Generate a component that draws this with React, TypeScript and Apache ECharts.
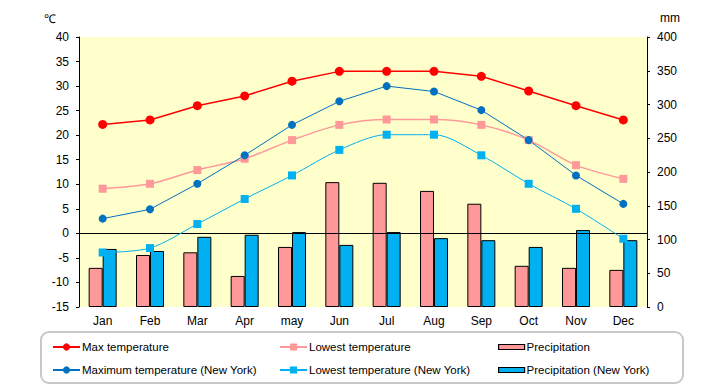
import React, { useEffect, useRef } from "react";
import * as echarts from "echarts";

const months = ["Jan", "Feb", "Mar", "Apr", "may", "Jun", "Jul", "Aug", "Sep", "Oct", "Nov", "Dec"];
const maxTemp = [22.2, 23.1, 26, 28, 31, 33, 33, 33, 32, 29, 26, 23.1];
const lowTemp = [9.1, 10.1, 12.9, 15.2, 19, 22.1, 23.2, 23.2, 22.1, 19, 13.9, 11.1];
const maxTempNY = [3, 4.9, 10.1, 15.9, 22.1, 26.9, 30, 28.9, 25.1, 19, 11.8, 6];
const lowTempNY = [-3.9, -3, 1.9, 7, 11.8, 17, 20.1, 20.1, 15.9, 10.1, 5, -1.1];
const precip = [58, 77, 81, 46, 89, 185, 184, 172, 153, 61, 58, 55];
const precipNY = [86, 83, 104, 107, 111, 92, 111, 102, 99, 89, 114, 99];

const FONT = "Liberation Sans";

export default function App() {
  const ref = useRef<HTMLDivElement>(null);
  useEffect(() => {
    if (!ref.current) return;
    const chart = echarts.init(ref.current, null, { renderer: "svg" });
    const legendText = { fontFamily: FONT, fontSize: 11.5, color: "#000" };
    const mkLegend = (name: string, left: number, top: number, bar = false) => {
      const base: any = {
        left,
        top,
        padding: 0,
        itemWidth: bar ? 26 : 27,
        itemHeight: bar ? 5 : 9,
        itemGap: 0,
        textStyle: { ...legendText, padding: [0, 0, 0, -3] },
        data: [name],
        selectedMode: false,
      };
      if (bar) {
        base.icon = "rect";
        base.itemStyle = { borderColor: "#000", borderWidth: 1.2 };
      }
      return base;
    };
    chart.setOption({
      animation: false,
      textStyle: { fontFamily: FONT },
      grid: { left: 79, right: 73, top: 37, bottom: 78, show: true, backgroundColor: "#FFFFCC", borderWidth: 0 },
      xAxis: {
        type: "category",
        data: months,
        axisLine: { show: false },
        axisTick: { show: false },
        axisLabel: { color: "#000", fontSize: 12, fontFamily: FONT, margin: 8 },
      },
      yAxis: [
        {
          type: "value",
          min: -15,
          max: 40,
          interval: 5,
          position: "left",
          axisLine: { show: true, lineStyle: { color: "#000" } },
          axisTick: { show: true, length: 3, lineStyle: { color: "#000" } },
          axisLabel: { color: "#000", fontSize: 12, fontFamily: FONT, margin: 10 },
          splitLine: { show: false },
        },
        {
          type: "value",
          min: 0,
          max: 400,
          interval: 50,
          position: "right",
          axisLine: { show: true, lineStyle: { color: "#000" } },
          axisTick: { show: true, length: 3, lineStyle: { color: "#000" } },
          axisLabel: { color: "#000", fontSize: 12, fontFamily: FONT, margin: 10 },
          splitLine: { show: false },
        },
      ],
      legend: [
        mkLegend("Max temperature", 52, 341),
        mkLegend("Maximum temperature (New York)", 52, 364),
        mkLegend("Lowest temperature", 279, 341),
        mkLegend("Lowest temperature (New York)", 279, 364),
        mkLegend("Precipitation", 498, 341, true),
        mkLegend("Precipitation (New York)", 498, 364, true),
      ],
      graphic: [
        {
          type: "rect",
          shape: { x: 41, y: 332, width: 642, height: 51, r: 8 },
          style: { fill: "none", stroke: "#c8c8c8", lineWidth: 2 },
          z: -1,
        },
        { type: "text", x: 44, y: 13, style: { text: "℃", fontSize: 12, fontFamily: FONT, fill: "#000" } },
        { type: "text", x: 660, y: 12, style: { text: "mm", fontSize: 12, fontFamily: FONT, fill: "#000" } },
      ],
      series: [
        {
          name: "Precipitation",
          type: "bar",
          yAxisIndex: 1,
          data: precip,
          barWidth: 14,
          barGap: "0%",
          itemStyle: { color: "#FF9999", borderColor: "#000", borderWidth: 1 },
          z: 2,
        },
        {
          name: "Precipitation (New York)",
          type: "bar",
          yAxisIndex: 1,
          data: precipNY,
          barWidth: 14,
          barGap: "0%",
          itemStyle: { color: "#00B0F0", borderColor: "#000", borderWidth: 1 },
          z: 2,
        },
        {
          name: "Max temperature",
          type: "line",
          data: maxTemp,
          symbol: "circle",
          symbolSize: 9,
          lineStyle: { color: "#FF0000", width: 1.5 },
          itemStyle: { color: "#FF0000" },
          z: 5,
          markLine: {
            silent: true,
            symbol: "none",
            label: { show: false },
            lineStyle: { color: "#000", width: 1, type: "solid" },
            data: [{ yAxis: 0 }],
            z: 4,
          },
        },
        {
          name: "Lowest temperature",
          type: "line",
          data: lowTemp,
          smooth: 0.3,
          symbol: "rect",
          symbolSize: 8,
          lineStyle: { color: "#FF9999", width: 1.5 },
          itemStyle: { color: "#FF9999" },
          z: 5,
        },
        {
          name: "Maximum temperature (New York)",
          type: "line",
          data: maxTempNY,
          symbol: "circle",
          symbolSize: 8,
          lineStyle: { color: "#0070C0", width: 1 },
          itemStyle: { color: "#0070C0" },
          z: 5,
        },
        {
          name: "Lowest temperature (New York)",
          type: "line",
          data: lowTempNY,
          smooth: 0.3,
          symbol: "rect",
          symbolSize: 8,
          lineStyle: { color: "#00B0F0", width: 1 },
          itemStyle: { color: "#00B0F0" },
          z: 5,
        },
      ],
    });
    return () => chart.dispose();
  }, []);
  return <div ref={ref} style={{ position: "absolute", left: 0, top: 0, width: 720, height: 385 }} />;
}
